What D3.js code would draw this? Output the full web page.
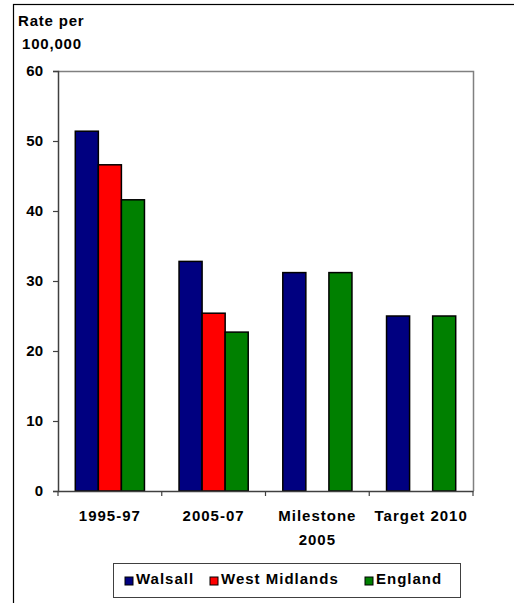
<!DOCTYPE html>
<html>
<head>
<meta charset="utf-8">
<script src="https://cdn.jsdelivr.net/npm/d3@7"></script>
<style>
  body { margin: 0; background: #fff; }
  svg text { font-family: "Liberation Sans", Arial, sans-serif; font-weight: bold; font-size: 15px; fill: #000; }
</style>
</head>
<body>
<svg id="chart" width="514" height="603"></svg>
<script>
// data
let categories = ["1995-97", "2005-07", "Milestone 2005", "Target 2010"];
let catLabels = [["1995-97"], ["2005-07"], ["Milestone", "2005"], ["Target 2010"]];
let seriesNames = ["Walsall", "West Midlands", "England"];
let seriesColors = ["#000080", "#ff0000", "#008000"];
let walsall = [51.4, 32.8, 31.2, 25.0];
let westMidlands = [46.6, 25.4, null, null];
let england = [41.6, 22.7, 31.2, 25.0];
let yTicks = [0, 10, 20, 30, 40, 50, 60];

let svg = d3.select("svg#chart");
let plotLeft = 58, plotRight = 473, plotTop = 71, plotBottom = 491;

// outer chart border (only top and left visible in the picture)
svg.append("rect")
  .attr("x", 13.5).attr("y", 4.5)
  .attr("width", 600).attr("height", 700)
  .attr("fill", "none").attr("stroke", "#000").attr("stroke-width", 1.2);

let x = d3.scaleBand().domain(categories).range([plotLeft, plotRight]).padding(0);
let xs = d3.scaleBand().domain(seriesNames).range([0, x.bandwidth()]).paddingInner(0).paddingOuter(0.75);
let y = d3.scaleLinear().domain([0, 60]).range([plotBottom, plotTop]);

// plot frame top + right (gray)
svg.append("path")
  .attr("d", "M" + plotLeft + "," + (plotTop + 0.5) + "H" + (plotRight + 0.5) + "V" + plotBottom)
  .attr("fill", "none").attr("stroke", "#808080").attr("stroke-width", 1.5);

let rows = [];
let all = [walsall, westMidlands, england];
categories.forEach((c, i) => {
  seriesNames.forEach((s, j) => {
    if (all[j][i] != null) rows.push({cat: c, series: s, value: all[j][i], color: seriesColors[j]});
  });
});

svg.append("g").selectAll("rect")
  .data(rows)
  .join("rect")
  .attr("x", d => x(d.cat) + xs(d.series))
  .attr("y", d => y(d.value))
  .attr("width", xs.bandwidth())
  .attr("height", d => y(0) - y(d.value))
  .attr("fill", d => d.color)
  .attr("stroke", "#000")
  .attr("stroke-width", 1.5);

// y axis
let yAxis = svg.append("g")
  .attr("transform", "translate(" + plotLeft + ",0)")
  .call(d3.axisLeft(y).tickValues(yTicks).tickSize(5).tickPadding(10));
yAxis.select(".domain").attr("stroke", "#404040").attr("stroke-width", 1.5);
yAxis.selectAll(".tick line").attr("stroke", "#404040").attr("stroke-width", 1.2);
yAxis.selectAll(".tick text").attr("font-size", null).attr("font-family", null);

// x axis
let xAxis = svg.append("g")
  .attr("transform", "translate(0," + plotBottom + ")")
  .call(d3.axisBottom(x).tickSize(0).tickFormat(""));
xAxis.select(".domain").attr("stroke", "#404040").attr("stroke-width", 1.5);
xAxis.selectAll(".bound")
  .data(d3.range(categories.length + 1))
  .join("line")
  .attr("x1", i => plotLeft + i * x.step()).attr("x2", i => plotLeft + i * x.step())
  .attr("y1", 0).attr("y2", 5)
  .attr("stroke", "#404040").attr("stroke-width", 1.2);

svg.append("g").selectAll("text")
  .data(categories)
  .join("text")
  .attr("text-anchor", "middle")
  .attr("letter-spacing", 1)
  .attr("x", d => x(d) + x.bandwidth() / 2)
  .attr("y", 521)
  .selectAll("tspan")
  .data((d, i) => catLabels[i])
  .join("tspan")
  .attr("x", function() { return this.parentNode.getAttribute("x"); })
  .attr("dy", (d, i) => i === 0 ? 0 : 24)
  .text(d => d);

// axis title
svg.append("text").attr("x", 18).attr("y", 26).attr("letter-spacing", 0.8).text("Rate per");
svg.append("text").attr("x", 22).attr("y", 49).attr("letter-spacing", 0.8).text("100,000");

// legend
svg.append("rect")
  .attr("x", 113.5).attr("y", 563.5).attr("width", 347).attr("height", 34)
  .attr("fill", "#fff").attr("stroke", "#404040").attr("stroke-width", 1);

let legendX = [125, 210, 365];
let lg = svg.append("g").selectAll("g")
  .data(seriesNames)
  .join("g")
  .attr("transform", (d, i) => "translate(" + legendX[i] + ",0)");
lg.append("rect")
  .attr("x", 0).attr("y", 577).attr("width", 8).attr("height", 8)
  .attr("fill", (d, i) => seriesColors[i]).attr("stroke", "#000").attr("stroke-width", 1);
lg.append("text")
  .attr("x", 11).attr("y", 584).attr("letter-spacing", 1)
  .text(d => d);
</script>
</body>
</html>
